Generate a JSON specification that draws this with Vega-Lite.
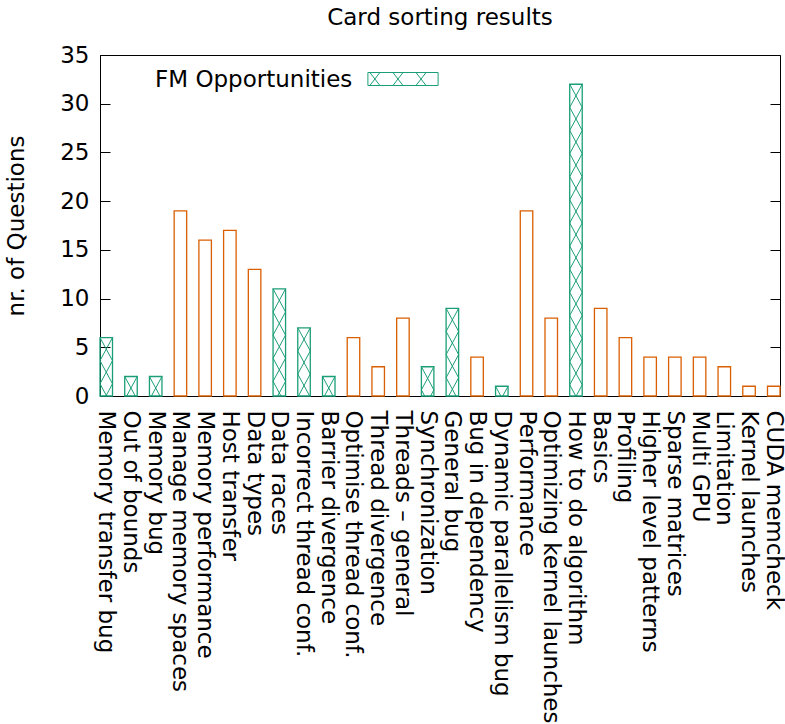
{
  "$schema": "https://vega.github.io/schema/vega-lite/v6.json",
  "width": 680,
  "height": 341,
  "autosize": {"type": "none"},
  "padding": {"left": 100, "top": 55, "right": 5, "bottom": 328},
  "background": "white",
  "title": {
    "text": "Card sorting results",
    "font": "DejaVu Sans",
    "fontSize": 23,
    "fontWeight": "normal",
    "color": "black",
    "anchor": "middle",
    "offset": 14
  },
  "config": {
    "view": {"stroke": "black", "strokeWidth": 1},
    "axis": {
      "labelFont": "DejaVu Sans",
      "labelFontSize": 23,
      "labelColor": "black",
      "titleFont": "DejaVu Sans",
      "titleFontSize": 23,
      "titleFontWeight": "normal",
      "titleColor": "black",
      "domainColor": "black",
      "tickColor": "black",
      "grid": false
    }
  },
  "resolve": {"axis": {"y": "independent"}},
  "data": {
    "values": [
      {"category": "Memory transfer bug", "count": 6, "group": "fm"},
      {"category": "Out of bounds", "count": 2, "group": "fm"},
      {"category": "Memory bug", "count": 2, "group": "fm"},
      {"category": "Manage memory spaces", "count": 19, "group": "other"},
      {"category": "Memory performance", "count": 16, "group": "other"},
      {"category": "Host transfer", "count": 17, "group": "other"},
      {"category": "Data types", "count": 13, "group": "other"},
      {"category": "Data races", "count": 11, "group": "fm"},
      {"category": "Incorrect thread conf.", "count": 7, "group": "fm"},
      {"category": "Barrier divergence", "count": 2, "group": "fm"},
      {"category": "Optimise thread conf.", "count": 6, "group": "other"},
      {"category": "Thread divergence", "count": 3, "group": "other"},
      {"category": "Threads – general", "count": 8, "group": "other"},
      {"category": "Synchronization", "count": 3, "group": "fm"},
      {"category": "General bug", "count": 9, "group": "fm"},
      {"category": "Bug in dependency", "count": 4, "group": "other"},
      {"category": "Dynamic parallelism bug", "count": 1, "group": "fm"},
      {"category": "Performance", "count": 19, "group": "other"},
      {"category": "Optimizing kernel launches", "count": 8, "group": "other"},
      {"category": "How to do algorithm", "count": 32, "group": "fm"},
      {"category": "Basics", "count": 9, "group": "other"},
      {"category": "Profiling", "count": 6, "group": "other"},
      {"category": "Higher level patterns", "count": 4, "group": "other"},
      {"category": "Sparse matrices", "count": 4, "group": "other"},
      {"category": "Multi GPU", "count": 4, "group": "other"},
      {"category": "Limitation", "count": 3, "group": "other"},
      {"category": "Kernel launches", "count": 1, "group": "other"},
      {"category": "CUDA memcheck", "count": 1, "group": "other"}
    ]
  },
  "encoding": {
    "x": {
      "field": "category",
      "type": "nominal",
      "sort": ["Memory transfer bug", "Out of bounds", "Memory bug", "Manage memory spaces", "Memory performance", "Host transfer", "Data types", "Data races", "Incorrect thread conf.", "Barrier divergence", "Optimise thread conf.", "Thread divergence", "Threads – general", "Synchronization", "General bug", "Bug in dependency", "Dynamic parallelism bug", "Performance", "Optimizing kernel launches", "How to do algorithm", "Basics", "Profiling", "Higher level patterns", "Sparse matrices", "Multi GPU", "Limitation", "Kernel launches", "CUDA memcheck"],
      "scale": {"paddingInner": 0.494, "paddingOuter": 0},
      "axis": {
        "title": null,
        "labelAngle": 90,
        "labelAlign": "left",
        "labelBaseline": "middle",
        "labelPadding": 14,
        "labelLimit": 0,
        "labelOverlap": false,
        "labelBound": false,
        "ticks": false,
        "domainWidth": 1
      }
    },
    "y": {
      "field": "count",
      "type": "quantitative",
      "scale": {"domain": [0, 35], "nice": false}
    }
  },
  "layer": [
    {
      "transform": [{"filter": "datum.group === 'other'"}],
      "mark": {"type": "bar", "fill": "transparent", "stroke": "#d95f02", "strokeWidth": 1.3},
      "encoding": {
        "y": {
          "field": "count",
          "type": "quantitative",
          "axis": {
            "orient": "left",
            "title": "nr. of Questions",
            "values": [0, 5, 10, 15, 20, 25, 30, 35],
            "tickSize": -10,
            "labelPadding": 21,
            "titlePadding": 31,
            "domainWidth": 1
          }
        }
      }
    },
    {
      "transform": [{"filter": "datum.group === 'fm'"}],
      "mark": {"type": "bar", "fill": "transparent", "strokeWidth": 1.3},
      "encoding": {
        "y": {"field": "count", "type": "quantitative", "axis": null},
        "stroke": {
          "datum": "FM Opportunities",
          "scale": {"range": ["#1b9e77"]},
          "legend": {
            "title": "FM Opportunities",
            "titleOrient": "left",
            "titleFont": "DejaVu Sans",
            "titleFontSize": 23,
            "titleFontWeight": "normal",
            "titleColor": "black",
            "titleBaseline": "middle",
            "titleLimit": 400,
            "titlePadding": 43,
            "labelExpr": "''",
            "symbolType": "M-5.4,-1H5.4V1H-5.4Z M-5.1,-1L-3.55,1M-3.55,-1L-5.1,1 M-1.55,-1L0,1M0,-1L-1.55,1 M2,-1L3.55,1M3.55,-1L2,1",
            "symbolSize": 169,
            "symbolStrokeWidth": 1,
            "symbolFillColor": "transparent",
            "orient": "none",
            "legendX": 55,
            "legendY": 17
          }
        }
      }
    },
    {
      "transform": [{"filter": "datum.group === 'fm'"}],
      "mark": {
        "type": "point",
        "clip": true,
        "filled": false,
        "opacity": 1,
        "stroke": "#1b9e77",
        "strokeWidth": 1,
        "size": 156.25,
        "shape": "M-1,0L1,3.7M1,0L-1,3.7M-1,3.7L1,7.4M1,3.7L-1,7.4M-1,7.4L1,11.1M1,7.4L-1,11.1M-1,11.1L1,14.8M1,11.1L-1,14.8M-1,14.8L1,18.5M1,14.8L-1,18.5M-1,18.5L1,22.2M1,18.5L-1,22.2M-1,22.2L1,25.9M1,22.2L-1,25.9M-1,25.9L1,29.6M1,25.9L-1,29.6M-1,29.6L1,33.3M1,29.6L-1,33.3M-1,33.3L1,37M1,33.3L-1,37M-1,37L1,40.7M1,37L-1,40.7M-1,40.7L1,44.4M1,40.7L-1,44.4M-1,44.4L1,48.1M1,44.4L-1,48.1M-1,48.1L1,51.8M1,48.1L-1,51.8M-1,51.8L1,55.5M1,51.8L-1,55.5"
      },
      "encoding": {
        "y": {
          "field": "count",
          "type": "quantitative",
          "axis": {
            "orient": "right",
            "title": null,
            "labels": false,
            "domain": false,
            "values": [0, 5, 10, 15, 20, 25, 30, 35],
            "tickSize": -10
          }
        }
      }
    }
  ]
}
